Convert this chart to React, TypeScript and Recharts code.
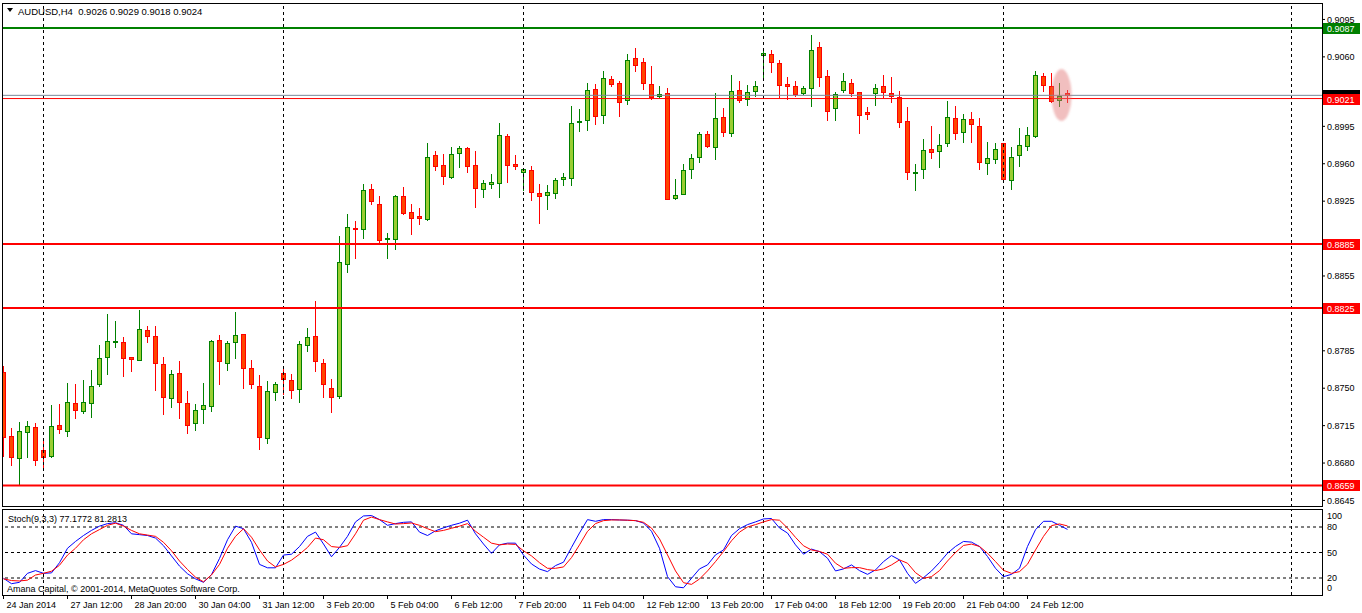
import { ComposedChart, LineChart, Bar, Line, XAxis, YAxis, ReferenceLine, ReferenceDot } from 'recharts';

// AUDUSD H4 candles, one entry per bar (bar 0 = 24 Jan 2014 04:00)
const opens = [
  0.8765, 0.8705, 0.8685, 0.8709, 0.8714, 0.8692, 0.8687, 0.8716, 0.8710, 0.8736,
  0.8729, 0.8736, 0.8754, 0.8779, 0.8793, 0.8793, 0.8779, 0.8776, 0.8804, 0.8799,
  0.8773, 0.8741, 0.8764, 0.8736, 0.8717, 0.8731, 0.8733, 0.8795, 0.8774, 0.8793,
  0.8801, 0.8769, 0.8752, 0.8703, 0.8746, 0.8764, 0.8758, 0.8749, 0.8790, 0.8799,
  0.8774, 0.8750, 0.8743, 0.8866, 0.8900, 0.8899, 0.8936, 0.8922, 0.8890, 0.8890,
  0.8930, 0.8915, 0.8911, 0.8908, 0.8968, 0.8959, 0.8948, 0.8970, 0.8975, 0.8959,
  0.8936, 0.8941, 0.8942, 0.8986, 0.8960, 0.8952, 0.8954, 0.8933, 0.8931, 0.8933,
  0.8946, 0.8947, 0.8999, 0.9001, 0.9030, 0.9006, 0.9039, 0.9036, 0.9020, 0.9059,
  0.9055, 0.9035, 0.9023, 0.9026, 0.8928, 0.8932, 0.8955, 0.8966, 0.8988, 0.8976,
  0.9004, 0.8989, 0.9029, 0.9021, 0.9028, 0.9062, 0.9063, 0.9054, 0.9035, 0.9033,
  0.9026, 0.9031, 0.9069, 0.9042, 0.9012, 0.9029, 0.9036, 0.9027, 0.9008, 0.9026,
  0.9033, 0.9026, 0.9022, 0.9000, 0.8951, 0.8955, 0.8974, 0.8972, 0.8979, 0.9003,
  0.8990, 0.9002, 0.8995, 0.8961, 0.8964, 0.8979, 0.8945, 0.8968, 0.8977, 0.8986,
  0.9042, 0.9033, 0.9020, 0.9026,
];
const highs = [
  0.8771, 0.8713, 0.8718, 0.8719, 0.8717, 0.8702, 0.8734, 0.8735, 0.8755, 0.8754,
  0.8758, 0.8767, 0.8790, 0.8819, 0.8813, 0.8798, 0.8779, 0.8823, 0.8808, 0.8808,
  0.8779, 0.8767, 0.8775, 0.8747, 0.8735, 0.8755, 0.8795, 0.8800, 0.8794, 0.8821,
  0.8801, 0.8776, 0.8762, 0.8757, 0.8756, 0.8770, 0.8763, 0.8794, 0.8806, 0.8832,
  0.8777, 0.8759, 0.8892, 0.8913, 0.8906, 0.8941, 0.8941, 0.8930, 0.8895, 0.8931,
  0.8938, 0.8922, 0.8919, 0.8979, 0.8972, 0.8969, 0.8976, 0.8977, 0.8976, 0.8972,
  0.8945, 0.8950, 0.8998, 0.8988, 0.8968, 0.8955, 0.8958, 0.8941, 0.8940, 0.8947,
  0.8951, 0.9014, 0.9011, 0.9036, 0.9035, 0.9047, 0.9042, 0.9037, 0.9063, 0.9068,
  0.9059, 0.9051, 0.9033, 0.9031, 0.8946, 0.8960, 0.8969, 0.8990, 0.8991, 0.9026,
  0.9012, 0.9043, 0.9037, 0.9034, 0.9037, 0.9068, 0.9066, 0.9057, 0.9041, 0.9037,
  0.9033, 0.9080, 0.9074, 0.9048, 0.9027, 0.9045, 0.9039, 0.9027, 0.9013, 0.9035,
  0.9043, 0.9041, 0.9028, 0.9013, 0.8960, 0.8983, 0.8995, 0.8988, 0.9019, 0.9014,
  0.9007, 0.9008, 0.9003, 0.8980, 0.8979, 0.8979, 0.8976, 0.8993, 0.8994, 0.9047,
  0.9045, 0.9045, 0.9036, 0.9029,
];
const lows = [
  0.8687, 0.8678, 0.8660, 0.8686, 0.8678, 0.8675, 0.8686, 0.8708, 0.8705, 0.8722,
  0.8727, 0.8723, 0.8752, 0.8763, 0.8789, 0.8761, 0.8766, 0.8776, 0.8793, 0.8748,
  0.8726, 0.8732, 0.8722, 0.8708, 0.8711, 0.8717, 0.8729, 0.8754, 0.8767, 0.8778,
  0.8750, 0.8750, 0.8693, 0.8699, 0.8739, 0.8745, 0.8741, 0.8737, 0.8785, 0.8766,
  0.8742, 0.8728, 0.8741, 0.8859, 0.8872, 0.8891, 0.8922, 0.8887, 0.8872, 0.8880,
  0.8913, 0.8894, 0.8904, 0.8907, 0.8954, 0.8941, 0.8947, 0.8957, 0.8952, 0.8920,
  0.8929, 0.8937, 0.8929, 0.8943, 0.8955, 0.8935, 0.8926, 0.8905, 0.8918, 0.8928,
  0.8940, 0.8940, 0.8991, 0.8992, 0.8997, 0.8998, 0.9033, 0.9005, 0.9016, 0.9047,
  0.9030, 0.9021, 0.9022, 0.8927, 0.8927, 0.8932, 0.8947, 0.8962, 0.8976, 0.8964,
  0.8986, 0.8986, 0.9018, 0.9015, 0.9023, 0.9039, 0.9046, 0.9022, 0.9021, 0.9023,
  0.9025, 0.9014, 0.9033, 0.9001, 0.9001, 0.9027, 0.9023, 0.8989, 0.9002, 0.9015,
  0.9022, 0.9018, 0.8994, 0.8946, 0.8935, 0.8947, 0.8965, 0.8957, 0.8977, 0.8983,
  0.8980, 0.8980, 0.8955, 0.8950, 0.8961, 0.8943, 0.8936, 0.8958, 0.8973, 0.8985,
  0.9028, 0.9018, 0.9014, 0.9018,
];
const closes = [
  0.8704, 0.8686, 0.8710, 0.8715, 0.8683, 0.8686, 0.8715, 0.8712, 0.8737, 0.8730,
  0.8737, 0.8752, 0.8778, 0.8794, 0.8794, 0.8778, 0.8777, 0.8805, 0.8799, 0.8774,
  0.8742, 0.8763, 0.8737, 0.8716, 0.8730, 0.8734, 0.8794, 0.8775, 0.8792, 0.8800,
  0.8769, 0.8754, 0.8704, 0.8747, 0.8754, 0.8759, 0.8748, 0.8791, 0.8798, 0.8775,
  0.8754, 0.8742, 0.8868, 0.8901, 0.8899, 0.8935, 0.8925, 0.8889, 0.8891, 0.8930,
  0.8914, 0.8909, 0.8909, 0.8966, 0.8958, 0.8949, 0.8969, 0.8975, 0.8958, 0.8937,
  0.8942, 0.8943, 0.8987, 0.8959, 0.8958, 0.8955, 0.8934, 0.8930, 0.8934, 0.8945,
  0.8948, 0.8998, 0.9000, 0.9029, 0.9005, 0.9040, 0.9035, 0.9018, 0.9057, 0.9052,
  0.9036, 0.9022, 0.9025, 0.8927, 0.8931, 0.8954, 0.8965, 0.8988, 0.8977, 0.9003,
  0.8990, 0.9028, 0.9020, 0.9027, 0.9033, 0.9064, 0.9055, 0.9034, 0.9033, 0.9025,
  0.9031, 0.9066, 0.9041, 0.9009, 0.9025, 0.9037, 0.9026, 0.9006, 0.9007, 0.9031,
  0.9027, 0.9023, 0.8999, 0.8952, 0.8952, 0.8973, 0.8971, 0.8978, 0.9004, 0.8989,
  0.9002, 0.8997, 0.8962, 0.8965, 0.8974, 0.8946, 0.8966, 0.8978, 0.8987, 0.9043,
  0.9034, 0.9019, 0.9023, 0.9024,
];

// Stochastic(9,3,3): main (blue) and signal (red)
const stochMain = [
  19.6, 13.3, 14.9, 25.5, 28.7, 25.5, 26, 38, 55, 63,
  70, 76, 81, 84, 85, 82, 72, 71, 70, 67,
  58, 46, 34, 25, 19, 15, 24, 43, 65, 81,
  78, 62, 36, 32, 32, 47, 48, 57, 69, 74,
  60, 45, 56, 69, 86, 93, 93.5, 88.7, 82, 84,
  85.5, 86, 74, 70, 75.5, 79, 82, 84.5, 88, 72,
  60, 49, 59, 61, 61, 47, 36.5, 30.5, 27.5, 34.6,
  38.6, 56, 73, 88.7, 86.7, 88.7, 88.7, 88.3, 88, 87.5,
  84.7, 75, 55, 21.6, 9.7, 8.5, 19.6, 30.7, 35.4, 47.2,
  53, 70, 78, 82.8, 86, 89.5, 90, 78.8, 72.9, 59,
  48, 54, 51, 43.3, 28.3, 30.7, 35.4, 28.7, 24.3, 29.5,
  39.3, 46.4, 41.3, 25.5, 13.7, 20.4, 28.3, 38.2, 49.2, 57.1,
  63, 62.2, 57.1, 45.3, 31.4, 21.6, 24.3, 31.4, 57.1, 76.8,
  86.7, 86.7, 82, 77.1772,
];
const stochSignal = [
  19, 17, 16.5, 17.5, 23.5, 25.5, 28, 35, 47, 55,
  65, 72, 77, 82, 84.5, 81, 76, 72, 70.5, 69,
  62, 52, 40, 30, 21, 15.5, 23.6, 36, 55, 69,
  78, 68, 53, 40, 33, 36, 41, 48, 56, 67,
  65, 57, 56, 58, 72, 88, 91.7, 88.7, 86, 83.5,
  84, 84.7, 82, 78, 74.5, 76, 78.5, 81, 84, 75,
  68, 61, 59, 60, 59.5, 52, 46, 38, 31.4, 31.4,
  33, 44, 59, 74.9, 84, 87.5, 88.3, 88.3, 88, 87.5,
  85.5, 78.8, 66, 47.2, 28.3, 14.5, 12.5, 18.8, 28.3, 39.3,
  51.2, 63.8, 74, 80, 82.8, 86, 88.7, 88, 78.8, 67.8,
  57.9, 53, 51.2, 48, 37.4, 31.4, 32.2, 32.2, 29.9, 28.7,
  30.7, 35.4, 41.3, 37.4, 26.3, 19.6, 21.6, 28.7, 40, 50,
  58.3, 59.9, 57.1, 49.2, 39.3, 29, 25.5, 27.5, 36.2, 53,
  69, 81.6, 83.6, 81.2813,
];

const dateTickBars = [0, 8, 16, 24, 32, 40, 48, 56, 64, 72, 80, 88, 96, 104, 112, 120, 128];
const dateLabels = [
  '24 Jan 2014', '27 Jan 12:00', '28 Jan 20:00', '30 Jan 04:00', '31 Jan 12:00', '3 Feb 20:00',
  '5 Feb 04:00', '6 Feb 12:00', '7 Feb 20:00', '11 Feb 04:00', '12 Feb 12:00', '13 Feb 20:00',
  '17 Feb 04:00', '18 Feb 12:00', '19 Feb 20:00', '21 Feb 04:00', '24 Feb 12:00',
];
const weekStarts = [5, 35, 65, 95, 125, 161];
// scale labels that are not covered by the level tags
const priceTicks = [0.9095, 0.906, 0.8995, 0.896, 0.8925, 0.8855, 0.8785, 0.875, 0.8715, 0.868, 0.8645];
const resistanceLevel = 0.9087;
const supportLevels = [0.8885, 0.8825, 0.8659];
const markedLevel = 0.9021;
const highlightBar = 132.25;
const highlightPrice = 0.90243;
const stochLevels = [20, 50, 80];
const stochTicks = [0, 20, 50, 80, 100];

const last = closes.length - 1;
const candles = opens.map((open, i) => ({ bar: i, open, high: highs[i], low: lows[i], close: closes[i] }));
const stochData = stochMain.map((main, i) => ({ bar: i, main, signal: stochSignal[i] }));

const X_DOMAIN: [number, number] = [-0.1875, 164.8125];
const PRICE_DOMAIN: [number, number] = [0.863887, 0.911039];
const FONT = '"Liberation Sans", Arial, sans-serif';

const Candle = (props: any) => {
  const { x, y, width, height, payload } = props;
  if (x == null || y == null || !payload) return null;
  const { open, high, low, close } = payload;
  const top = Math.min(y, y + height);
  const h = Math.abs(height);
  const py = (p: number) => (high === low ? top : top + ((high - p) / (high - low)) * h);
  const cx = Math.round(x + width / 2 - 0.5) + 0.5;
  const up = close > open;
  const stroke = up ? '#008000' : '#FF0000';
  const fill = up ? '#9ACD32' : '#FF4500';
  const bTop = Math.round(py(Math.max(open, close))) + 0.5;
  const bBot = Math.round(py(Math.min(open, close))) + 0.5;
  return (
    <g>
      <line x1={cx} x2={cx} y1={Math.round(top)} y2={Math.round(top + h) + 1} stroke={stroke} />
      {bBot - bTop < 1 ? (
        <line x1={cx - 2} x2={cx + 3} y1={bTop} y2={bTop} stroke={stroke} />
      ) : (
        <rect x={cx - 2} y={bTop} width={4} height={bBot - bTop} fill={fill} stroke={stroke} />
      )}
    </g>
  );
};

const priceTag = (color: string, text: string) => (props: any) => {
  const vb = props.viewBox || {};
  const x = (vb.x || 0) + (vb.width || 0);
  const y = Math.round(vb.y || 0);
  return (
    <g>
      <rect x={x + 1} y={y - 5} width={37} height={11} fill={color} />
      {text ? (
        <text x={x + 5} y={y + 0.5} fill="#fff" fontSize={9} fontFamily={FONT} dominantBaseline="central">
          {text}
        </text>
      ) : null}
    </g>
  );
};

const DateTick = (props: any) => {
  const { x, y, payload } = props;
  const i = dateTickBars.indexOf(payload.value);
  return (
    <g>
      <line x1={x} x2={x} y1={y} y2={y + 4} stroke="#000" />
      <text x={x + 3} y={y + 10} fontSize={9} fontFamily={FONT} fill="#000" dominantBaseline="central">
        {dateLabels[i]}
      </text>
    </g>
  );
};

const StochTick = (props: any) => {
  const { x, y, payload } = props;
  const dy = payload.value === 100 ? 6 : payload.value === 0 ? -7 : 0;
  return (
    <text x={x} y={y + dy} fontSize={9} fontFamily={FONT} fill="#000" dominantBaseline="central">
      {payload.value}
    </text>
  );
};

const Highlight = (p: any) => (
  <g>
    <defs>
      <filter id="soft" x="-50%" y="-50%" width="200%" height="200%">
        <feGaussianBlur stdDeviation="1.2" />
      </filter>
    </defs>
    <ellipse cx={p.cx} cy={p.cy} rx={10} ry={26} fill="#E07070" fillOpacity={0.45} filter="url(#soft)" />
  </g>
);

export default function App() {
  return (
    <div style={{ position: 'absolute', left: 0, top: 0, width: 1362, height: 613, background: '#fff', overflow: 'hidden' }}>
      <div style={{ position: 'absolute', left: 0, top: 0 }}>
        <ComposedChart width={1362} height={507} data={candles} margin={{ top: 3, right: 0, bottom: 0, left: 2 }}>
          <XAxis dataKey="bar" type="number" domain={X_DOMAIN} allowDataOverflow hide />
          <YAxis
            orientation="right"
            type="number"
            domain={PRICE_DOMAIN}
            allowDataOverflow
            ticks={priceTicks}
            interval={0}
            width={40}
            axisLine={false}
            tickSize={3}
            tickLine={{ stroke: '#000' }}
            tick={{ fontSize: 9, fill: '#000', fontFamily: FONT }}
            tickFormatter={(v: number) => v.toFixed(4)}
          />
          {weekStarts.map((w) => (
            <ReferenceLine key={w} x={w} stroke="#000" strokeDasharray="3 3" />
          ))}
          <ReferenceDot x={highlightBar} y={highlightPrice} r={10} shape={Highlight} />
          <ReferenceLine y={resistanceLevel} stroke="#008000" strokeWidth={2} label={priceTag('#008000', resistanceLevel.toFixed(4))} />
          {supportLevels.map((lv) => (
            <ReferenceLine key={lv} y={lv} stroke="#FF0000" strokeWidth={2} label={priceTag('#FF0000', lv.toFixed(4))} />
          ))}
          <ReferenceLine y={closes[last]} stroke="#778899" label={priceTag('#000', '')} />
          <ReferenceLine y={markedLevel} stroke="#FF0000" label={priceTag('#FF0000', markedLevel.toFixed(4))} />
          <Bar dataKey={(d: any) => [d.low, d.high]} barSize={5} shape={Candle} isAnimationActive={false} />
        </ComposedChart>
      </div>

      <div style={{ position: 'absolute', left: 0, top: 509 }}>
        <LineChart width={1362} height={104} data={stochData} margin={{ top: 1, right: 0, bottom: 0, left: 2 }}>
          <XAxis
            dataKey="bar"
            type="number"
            domain={X_DOMAIN}
            allowDataOverflow
            ticks={dateTickBars}
            interval={0}
            height={18}
            axisLine={false}
            tickLine={false}
            tickSize={0}
            tickMargin={0}
            tick={(p: any) => <DateTick {...p} />}
          />
          <YAxis
            orientation="right"
            type="number"
            domain={[0, 100]}
            ticks={stochTicks}
            interval={0}
            width={40}
            axisLine={false}
            tickLine={false}
            tickSize={3}
            tickMargin={2}
            tick={(p: any) => <StochTick {...p} />}
          />
          {weekStarts.map((w) => (
            <ReferenceLine key={w} x={w} stroke="#000" strokeDasharray="3 3" />
          ))}
          {stochLevels.map((lv) => (
            <ReferenceLine key={lv} y={lv} stroke="#000" strokeDasharray="3 3" />
          ))}
          <Line dataKey="main" stroke="#0000FF" strokeWidth={1} dot={false} type="linear" isAnimationActive={false} />
          <Line dataKey="signal" stroke="#FF0000" strokeWidth={1} dot={false} type="linear" isAnimationActive={false} />
        </LineChart>
      </div>

      <svg width={1362} height={613} style={{ position: 'absolute', left: 0, top: 0, pointerEvents: 'none' }}>
        <rect x={2.5} y={3.5} width={1320} height={503} fill="none" stroke="#000" />
        <rect x={2.5} y={509.5} width={1320} height={86} fill="none" stroke="#000" />
        <path d="M7 8 L13 8 L10 12 Z" fill="#000" />
        <text x={18} y={11} fontSize={9.5} fontFamily={FONT} fill="#000" dominantBaseline="central" style={{ whiteSpace: 'pre' }}>
          {`AUDUSD,H4  ${opens[last].toFixed(4)} ${highs[last].toFixed(4)} ${lows[last].toFixed(4)} ${closes[last].toFixed(4)}`}
        </text>
        <text x={8} y={518.5} fontSize={9} fontFamily={FONT} fill="#000" dominantBaseline="central">
          {`Stoch(9,3,3) ${stochMain[last].toFixed(4)} ${stochSignal[last].toFixed(4)}`}
        </text>
        <text x={7} y={589} fontSize={9} fontFamily={FONT} fill="#000" dominantBaseline="central">
          Amana Capital, © 2001-2014, MetaQuotes Software Corp.
        </text>
      </svg>
    </div>
  );
}
